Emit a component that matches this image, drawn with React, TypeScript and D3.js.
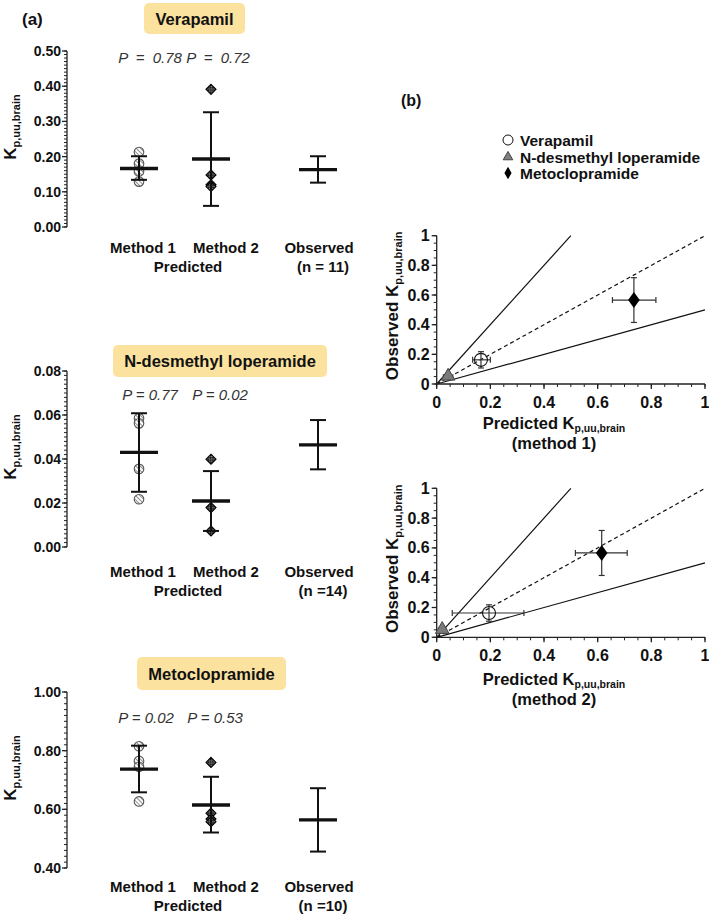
import React from "react";
import * as d3 from "d3";

const categories = ["Method 1", "Method 2", "Observed"];
const compounds = ["Verapamil", "N-desmethyl loperamide", "Metoclopramide"];

// (a) Verapamil
const verapamilMethod1 = [0.213, 0.18, 0.158, 0.129];
const verapamilMethod2 = [0.391, 0.148, 0.12, 0.115];
const verapamilMean = [0.166, 0.193, 0.163];
const verapamilLow = [0.134, 0.06, 0.126];
const verapamilHigh = [0.201, 0.326, 0.201];
const verapamilP = ["P = 0.78", "P = 0.72"];
const verapamilN = "(n = 11)";
const verapamilTicks = [0, 0.1, 0.2, 0.3, 0.4, 0.5];

// (a) N-desmethyl loperamide
const ndlMethod1 = [0.0585, 0.0562, 0.0355, 0.0217];
const ndlMethod2 = [0.0399, 0.0179, 0.0073];
const ndlMean = [0.043, 0.0209, 0.0464];
const ndlLow = [0.0251, 0.0073, 0.0353];
const ndlHigh = [0.0608, 0.0345, 0.0577];
const ndlP = ["P = 0.77", "P = 0.02"];
const ndlN = "(n =14)";
const ndlTicks = [0, 0.02, 0.04, 0.06, 0.08];

// (a) Metoclopramide
const metoMethod1 = [0.815, 0.765, 0.745, 0.627];
const metoMethod2 = [0.76, 0.587, 0.567, 0.558];
const metoMean = [0.737, 0.615, 0.564];
const metoLow = [0.658, 0.521, 0.456];
const metoHigh = [0.817, 0.711, 0.672];
const metoP = ["P = 0.02", "P = 0.53"];
const metoN = "(n =10)";
const metoTicks = [0.4, 0.6, 0.8, 1.0];

// (b) scatter
const observedMean = [0.163, 0.046, 0.566];
const observedLow = [0.108, 0.035, 0.415];
const observedHigh = [0.218, 0.058, 0.717];
const method1Pred = [0.165, 0.0425, 0.735];
const method1Low = [0.134, 0.025, 0.655];
const method1High = [0.2, 0.06, 0.817];
const method2Pred = [0.195, 0.0205, 0.615];
const method2Low = [0.058, 0.007, 0.517];
const method2High = [0.325, 0.034, 0.71];
const scatterTicks = [0, 0.2, 0.4, 0.6, 0.8, 1];
const scatterTickLabels = ["0", "0.2", "0.4", "0.6", "0.8", "1"];

const FONT = "Arial, 'Liberation Sans', Helvetica, sans-serif";
const BOX = "#fbe29f";

type LeftProps = {
  title: string;
  m1: number[];
  m2: number[];
  mean: number[];
  low: number[];
  high: number[];
  pLabels: string[];
  nLabel: string;
  ticks: number[];
  yTop: number;
  yBottom: number;
  boxX0: number;
  boxX1: number;
  boxY0: number;
  boxY1: number;
  pY: number;
  labY: number;
  wordSpacing: number;
  pX: number[];
};

function Diamond({ x, y, s }: { x: number; y: number; s: number }) {
  const p = d3.path();
  p.moveTo(x, y - s);
  p.lineTo(x + s, y);
  p.lineTo(x, y + s);
  p.lineTo(x - s, y);
  p.closePath();
  return <path d={p.toString()} fill="url(#checker)" stroke="#000" strokeWidth={1.1} />;
}

function LeftPanel(props: LeftProps) {
  const dom = [props.ticks[0], props.ticks[props.ticks.length - 1]];
  const y = d3.scaleLinear().domain(dom).range([props.yBottom, props.yTop]);
  const x = d3.scaleOrdinal<string, number>().domain(categories).range([139, 211, 318]);
  const axisX = 67;
  const step = props.ticks[1] - props.ticks[0];
  const minor = d3.range(0, Math.round((dom[1] - dom[0]) / (step / 10)) + 1).map((i) => dom[0] + (i * step) / 10);
  const dec = 2;
  const cx = (props.boxX0 + props.boxX1) / 2;
  return (
    <g>
      <rect x={props.boxX0} y={props.boxY0} width={props.boxX1 - props.boxX0} height={props.boxY1 - props.boxY0} rx={5} fill={BOX} />
      <text x={cx} y={(props.boxY0 + props.boxY1) / 2 + 6} textAnchor="middle" fontWeight="bold" fontSize={16.5} fill="#111">
        {props.title}
      </text>
      {/* axis */}
      <line x1={axisX} x2={axisX} y1={props.yTop} y2={props.yBottom} stroke="#222" strokeWidth={1.3} />
      {minor.map((t, i) => (
        <line key={"mi" + i} x1={axisX - 3} x2={axisX} y1={y(t)} y2={y(t)} stroke="#222" strokeWidth={1} />
      ))}
      {props.ticks.map((t, i) => (
        <g key={"t" + i}>
          <line x1={axisX - 5} x2={axisX} y1={y(t)} y2={y(t)} stroke="#222" strokeWidth={1.3} />
          <text x={axisX - 6} y={y(t) + 5} textAnchor="end" fontWeight="bold" fontSize={14} fill="#111">
            {t.toFixed(dec)}
          </text>
        </g>
      ))}
      <text transform={`translate(16,${(props.yTop + props.yBottom) / 2 - 12}) rotate(-90)`} textAnchor="middle" fontWeight="bold" fontSize={17} fill="#111">
        K<tspan fontSize={11} dy={4}>p,uu,brain</tspan>
      </text>
      {/* P labels */}
      {props.pLabels.map((p, i) => (
        <text key={"p" + i} x={props.pX[i]} y={props.pY} textAnchor="middle" fontStyle="italic" fontSize={15} fill="#333" style={{ wordSpacing: props.wordSpacing }}>
          {p}
        </text>
      ))}
      {/* points */}
      {props.m1.map((v, i) => (
        <circle key={"c" + i} cx={x("Method 1")} cy={y(v)} r={4.8} fill="url(#hatch)" stroke="#555" strokeWidth={1.1} />
      ))}
      {props.m2.map((v, i) => (
        <Diamond key={"d" + i} x={x("Method 2")} y={y(v)} s={5} />
      ))}
      {/* mean & SD */}
      {categories.map((c, i) => (
        <g key={"m" + i}>
          <line x1={x(c)} x2={x(c)} y1={y(props.low[i])} y2={y(props.high[i])} stroke="#111" strokeWidth={2} />
          <line x1={x(c) - 8} x2={x(c) + 8} y1={y(props.low[i])} y2={y(props.low[i])} stroke="#111" strokeWidth={2} />
          <line x1={x(c) - 8} x2={x(c) + 8} y1={y(props.high[i])} y2={y(props.high[i])} stroke="#111" strokeWidth={2} />
          <line x1={x(c) - 19} x2={x(c) + 19} y1={y(props.mean[i])} y2={y(props.mean[i])} stroke="#111" strokeWidth={3.4} />
        </g>
      ))}
      {/* x labels */}
      <g fontWeight="bold" fontSize={15} fill="#111" textAnchor="middle">
        <text x={x("Method 1") + 4} y={props.labY}>{categories[0]}</text>
        <text x={x("Method 2") + 15} y={props.labY}>{categories[1]}</text>
        <text x={x("Observed") + 1} y={props.labY}>{categories[2]}</text>
        <text x={(x("Method 1") + x("Method 2")) / 2 + 13} y={props.labY + 19}>Predicted</text>
        <text x={x("Observed") + 5} y={props.labY + 19}>{props.nLabel}</text>
      </g>
    </g>
  );
}

type ScatterProps = {
  pred: number[];
  predLow: number[];
  predHigh: number[];
  yTop: number;
  yBottom: number;
  method: string;
  titleY: number;
};

function Scatter(props: ScatterProps) {
  const x = d3.scaleLinear().domain([0, 1]).range([436.7, 705]);
  const y = d3.scaleLinear().domain([0, 1]).range([props.yBottom, props.yTop]);
  const minor = d3.range(0, 21).map((i) => i * 0.05);
  const line = d3.line<[number, number]>().x((d) => x(d[0])).y((d) => y(d[1]));
  const ebColor = "#333";
  return (
    <g>
      {/* reference lines */}
      <path d={line([[0, 0], [0.5, 1]]) || ""} stroke="#111" strokeWidth={1.2} fill="none" />
      <path d={line([[0, 0], [1, 1]]) || ""} stroke="#111" strokeWidth={1.2} fill="none" strokeDasharray="4,3" />
      <path d={line([[0, 0], [1, 0.5]]) || ""} stroke="#111" strokeWidth={1.2} fill="none" />
      {/* axes */}
      <line x1={x(0)} x2={x(0)} y1={y(0)} y2={y(1)} stroke="#222" strokeWidth={1.3} />
      <line x1={x(0)} x2={x(1)} y1={y(0)} y2={y(0)} stroke="#222" strokeWidth={1.3} />
      {minor.map((t, i) => (
        <g key={"mn" + i}>
          <line x1={x(0) - 3} x2={x(0)} y1={y(t)} y2={y(t)} stroke="#222" strokeWidth={1} />
          <line x1={x(t)} x2={x(t)} y1={y(0)} y2={y(0) + 3} stroke="#222" strokeWidth={1} />
        </g>
      ))}
      {scatterTicks.map((t, i) => (
        <g key={"tk" + i}>
          <line x1={x(0) - 5} x2={x(0)} y1={y(t)} y2={y(t)} stroke="#222" strokeWidth={1.3} />
          <line x1={x(t)} x2={x(t)} y1={y(0)} y2={y(0) + 5} stroke="#222" strokeWidth={1.3} />
          <text x={x(0) - 7} y={y(t) + 5.5} textAnchor="end" fontWeight="bold" fontSize={16} fill="#111">
            {scatterTickLabels[i]}
          </text>
          <text x={x(t)} y={y(0) + 24} textAnchor="middle" fontWeight="bold" fontSize={16} fill="#111">
            {scatterTickLabels[i]}
          </text>
        </g>
      ))}
      {/* axis titles */}
      <text transform={`translate(398,${(props.yTop + props.yBottom) / 2 - 4}) rotate(-90)`} textAnchor="middle" fontWeight="bold" fontSize={17} fill="#111">
        Observed K<tspan fontSize={11} dy={4}>p,uu,brain</tspan>
      </text>
      <text x={554} y={props.titleY} textAnchor="middle" fontWeight="bold" fontSize={16.5} fill="#111">
        Predicted K<tspan fontSize={10.5} dy={3}>p,uu,brain</tspan>
      </text>
      <text x={554} y={props.titleY + 20} textAnchor="middle" fontWeight="bold" fontSize={16.5} fill="#111">
        {props.method}
      </text>
      {/* error bars */}
      {compounds.map((c, i) => (
        <g key={"eb" + i} stroke={ebColor} strokeWidth={1.2}>
          <line x1={x(props.predLow[i])} x2={x(props.predHigh[i])} y1={y(observedMean[i])} y2={y(observedMean[i])} />
          <line x1={x(props.predLow[i])} x2={x(props.predLow[i])} y1={y(observedMean[i]) - 3} y2={y(observedMean[i]) + 3} />
          <line x1={x(props.predHigh[i])} x2={x(props.predHigh[i])} y1={y(observedMean[i]) - 3} y2={y(observedMean[i]) + 3} />
          <line x1={x(props.pred[i])} x2={x(props.pred[i])} y1={y(observedLow[i])} y2={y(observedHigh[i])} />
          <line x1={x(props.pred[i]) - 3} x2={x(props.pred[i]) + 3} y1={y(observedLow[i])} y2={y(observedLow[i])} />
          <line x1={x(props.pred[i]) - 3} x2={x(props.pred[i]) + 3} y1={y(observedHigh[i])} y2={y(observedHigh[i])} />
        </g>
      ))}
      {/* markers */}
      <circle cx={x(props.pred[0])} cy={y(observedMean[0])} r={6.5} fill="none" stroke="#111" strokeWidth={1.1} />
      <path d={d3.symbol(d3.symbolTriangle, 80)() || ""} transform={`translate(${x(props.pred[1])},${y(observedMean[1]) - 1})`} fill="#7a7a7a" stroke="#444" strokeWidth={1} />
      <path d={d3.symbol(d3.symbolDiamond, 75)() || ""} transform={`translate(${x(props.pred[2])},${y(observedMean[2])}) scale(1.25,1)`} fill="#000" />
    </g>
  );
}

export default function App() {
  const legendY = d3.scaleOrdinal<string, number>().domain(compounds).range([140, 157, 173]);
  return (
    <svg width={709} height={916} style={{ position: "absolute", left: 0, top: 0, background: "#fff" }} fontFamily={FONT}>
      <defs>
        <pattern id="hatch" width={3} height={3} patternUnits="userSpaceOnUse" patternTransform="rotate(-45)">
          <rect width={3} height={3} fill="#fff" />
          <line x1={0} y1={0} x2={0} y2={3} stroke="#555" strokeWidth={1.3} />
        </pattern>
        <pattern id="checker" width={2.4} height={2.4} patternUnits="userSpaceOnUse" patternTransform="rotate(45)">
          <rect width={2.4} height={2.4} fill="#888" />
          <rect width={1.2} height={1.2} fill="#000" />
          <rect x={1.2} y={1.2} width={1.2} height={1.2} fill="#000" />
        </pattern>
      </defs>
      <rect width={709} height={916} fill="#fff" />
      <text x={22} y={25} fontWeight="bold" fontSize={17} fill="#111">(a)</text>
      <text x={401} y={106} fontWeight="bold" fontSize={16} fill="#111">(b)</text>

      <LeftPanel
        title={compounds[0]}
        m1={verapamilMethod1}
        m2={verapamilMethod2}
        mean={verapamilMean}
        low={verapamilLow}
        high={verapamilHigh}
        pLabels={verapamilP}
        nLabel={verapamilN}
        ticks={verapamilTicks}
        yTop={51}
        yBottom={227}
        boxX0={144}
        boxX1={245}
        boxY0={3}
        boxY1={34}
        pY={63}
        labY={253}
        wordSpacing={4}
        pX={[150, 218]}
      />
      <LeftPanel
        title={compounds[1]}
        m1={ndlMethod1}
        m2={ndlMethod2}
        mean={ndlMean}
        low={ndlLow}
        high={ndlHigh}
        pLabels={ndlP}
        nLabel={ndlN}
        ticks={ndlTicks}
        yTop={371}
        yBottom={547}
        boxX0={113}
        boxX1={327}
        boxY0={345}
        boxY1={377}
        pY={400}
        labY={577}
        wordSpacing={0}
        pX={[150, 220]}
      />
      <LeftPanel
        title={compounds[2]}
        m1={metoMethod1}
        m2={metoMethod2}
        mean={metoMean}
        low={metoLow}
        high={metoHigh}
        pLabels={metoP}
        nLabel={metoN}
        ticks={metoTicks}
        yTop={692}
        yBottom={868}
        boxX0={137}
        boxX1={286}
        boxY0={657}
        boxY1={690}
        pY={723}
        labY={892}
        wordSpacing={0}
        pX={[146, 215]}
      />

      {/* legend */}
      <g fontWeight="bold" fontSize={15.5} fill="#111">
        <circle cx={508} cy={legendY(compounds[0])} r={5} fill="#fff" stroke="#111" strokeWidth={1} />
        <text x={520} y={legendY(compounds[0]) + 5.5}>{compounds[0]}</text>
        <path d={d3.symbol(d3.symbolTriangle, 40)() || ""} transform={`translate(508,${legendY(compounds[1])})`} fill="#808080" stroke="#444" strokeWidth={1} />
        <text x={520} y={legendY(compounds[1]) + 5.5}>{compounds[1]}</text>
        <path d={d3.symbol(d3.symbolDiamond, 45)() || ""} transform={`translate(508,${legendY(compounds[2])})`} fill="#000" />
        <text x={520} y={legendY(compounds[2]) + 5.5}>{compounds[2]}</text>
      </g>

      <Scatter pred={method1Pred} predLow={method1Low} predHigh={method1High} yTop={235.7} yBottom={384} method="(method 1)" titleY={429} />
      <Scatter pred={method2Pred} predLow={method2Low} predHigh={method2High} yTop={488.3} yBottom={637.3} method="(method 2)" titleY={685} />
    </svg>
  );
}
